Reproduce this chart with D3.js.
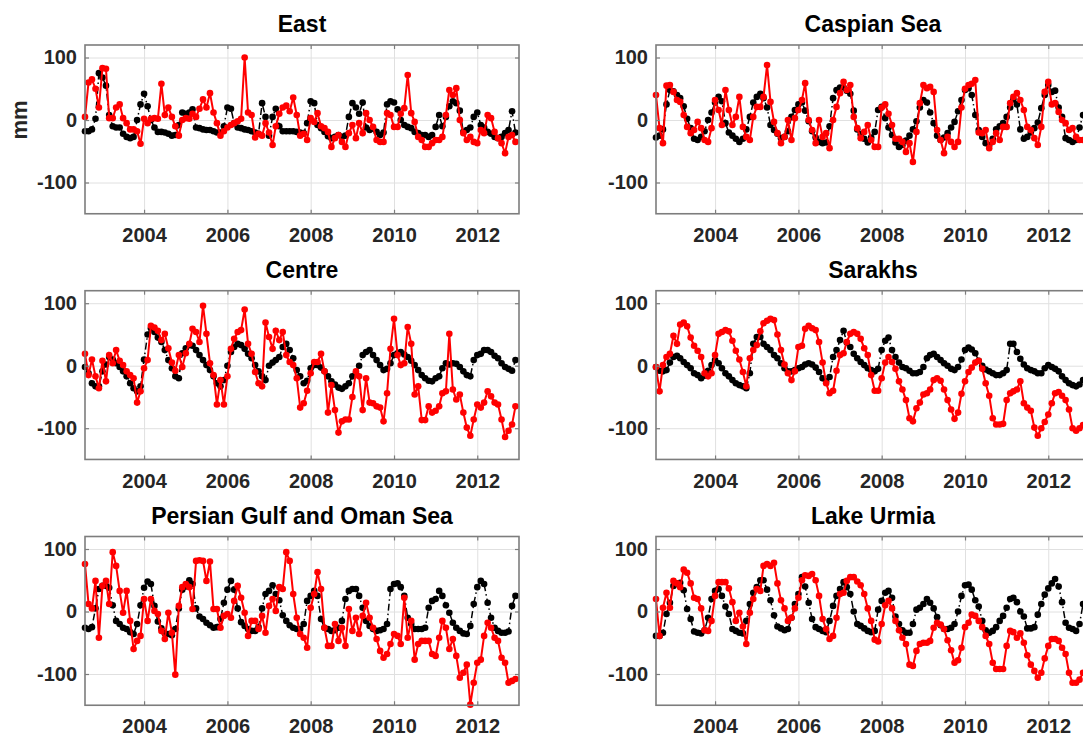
<!DOCTYPE html>
<html>
<head>
<meta charset="utf-8">
<script src="https://cdn.jsdelivr.net/npm/d3@7"></script>
<style>
  body { margin: 0; background: #fff; overflow: hidden; }
  svg { display: block; }
  text { font-family: "Liberation Sans", Arial, Helvetica, sans-serif; }
</style>
</head>
<body>
<svg id="fig" width="1083" height="736"></svg>
<script>
// Monthly water-storage anomalies (mm), Aug 2002 – Dec 2012
const months = d3.timeMonth.range(new Date(2002, 7, 1), new Date(2013, 0, 1));
const yearTicks = [2004, 2006, 2008, 2010, 2012];
const valueTicks = [-100, 0, 100];

const eastBlack = [-18,-18,-15,2,75,68,55,8,-10,-12,-12,-22,-27,-29,-27,0,25,42,22,0,-12,-19,-19,-20,-22,-25,-24,-8,12,10,12,17,-12,-13,-15,-16,-16,-18,-20,-20,-10,20,18,-5,-12,-13,-15,-16,-18,-20,-22,27,5,-25,5,18,-10,-18,-18,-18,-18,-19,
  -20,-21,-5,30,27,-8,-13,-19,-26,-29,-27,-24,-27,-25,5,27,20,10,28,-12,-16,-14,-19,-24,-20,25,30,28,17,0,-8,-11,-13,-19,-21,-24,-24,-27,-24,-11,8,-10,5,22,30,27,15,-19,-16,-12,5,12,-8,-12,-19,-22,-27,-29,-27,-21,-16,14,-20];
const eastRed = [5,60,65,50,20,83,82,3,3,20,25,3,-5,-15,-15,-18,-38,2,-5,2,3,2,58,8,20,5,-10,-25,0,3,2,10,5,18,33,20,43,12,-5,-25,-18,-12,-8,-5,-2,2,100,12,8,-28,-22,-25,-5,-20,-40,-10,10,20,23,14,36,8,
  -25,-22,-32,3,-3,11,-10,-13,-19,-43,-29,-24,-35,-43,-21,-8,-29,-5,-21,11,0,-11,-32,-35,-35,11,8,-11,-11,10,19,72,11,-3,-27,-32,-43,-43,-37,-32,-32,-27,8,48,40,51,0,-21,-32,-27,-35,-37,-16,-21,8,3,-19,-29,-37,-53,-27,-24,-35];

const caspianBlack = [-28,-25,-15,25,48,46,40,35,22,2,-13,-30,-32,-27,-18,0,12,28,37,30,-5,-20,-25,-30,-35,-30,-15,5,28,37,42,35,20,-8,-16,-22,-29,-27,-18,5,16,25,28,15,-2,-18,-28,-35,-37,-36,-10,35,48,
  52,52,47,42,15,-15,-23,-30,-36,-28,-19,16,21,3,-12,-24,-36,-43,-40,-33,-25,-15,-2,20,32,28,12,-5,-25,-32,-28,-21,-12,-3,14,32,48,51,40,8,-16,-27,-37,-40,-30,-15,-10,-5,5,20,33,25,-15,-30,-27,-20,-13,-4,19,40,56,45,47,20,5,-29,-32,-35,-32,-12,8,10];
const caspianRed = [40,-13,-37,55,56,45,32,29,8,-11,-21,-16,-3,-13,-32,-35,-13,32,16,-8,48,16,-8,5,37,-11,-27,-32,5,21,21,37,88,29,-3,-21,-37,-27,0,-32,3,16,32,59,0,-16,-37,0,-27,-21,-45,0,21,
  43,61,48,56,5,-13,-29,-19,-8,-32,-43,-43,20,25,10,-8,-30,-30,-35,-51,-37,-67,-19,27,56,51,53,45,-16,-32,-53,-27,-35,-43,-35,20,50,56,58,64,-20,-21,-16,-45,-35,-21,-32,-11,-11,27,37,43,32,16,-11,-16,-29,-40,-11,45,61,25,27,13,0,-5,-16,-13,-27,-32,-32,-30];

const centreBlack = [-2,-12,-28,-33,-33,-9,2,14,10,4,-2,-9,-17,-28,-36,-41,-33,10,50,60,54,45,38,25,9,-4,-17,-20,20,28,33,32,25,17,9,1,-7,-17,-28,-33,-23,0,22,30,35,33,27,19,12,1,-9,-17,-23,0,5,9,14,30,35,25,12,-7,
  -17,-28,-24,-4,1,1,-3,-9,-17,-25,-30,-35,-37,-33,-28,-17,-12,0,17,22,25,17,9,1,-7,-5,4,17,20,22,18,14,8,1,-7,-15,-20,-24,-25,-20,-17,-4,4,2,4,3,-2,-9,-15,-17,9,17,19,25,25,22,16,12,4,-2,-5,-8,9];
const centreRed = [19,-15,10,-17,-36,8,-25,17,4,25,8,1,-9,-15,-20,-59,-41,-4,9,64,61,56,41,51,28,5,-8,17,-2,20,35,59,54,38,96,51,4,-15,-62,-23,-62,-17,27,43,54,57,90,35,19,-10,-28,-33,69,46,27,56,41,54,17,6,1,-20,
  -67,-60,-40,-12,6,6,19,-9,-75,-31,-71,-107,-89,-86,-86,-50,-9,-17,-71,-20,-59,-60,-65,-67,-89,-44,27,75,17,1,4,62,35,-46,-33,-87,-87,-65,-75,-72,-65,-44,-41,51,-38,-54,-46,-75,-99,-112,-86,-62,-67,-59,-41,-49,-59,-62,-86,-114,-104,-94,-65];

const sarakhsBlack = [-2,-8,-9,-7,5,14,16,12,6,1,-4,-12,-15,-20,-16,-8,1,9,4,-4,-12,-17,-23,-28,-31,-33,-36,-12,35,46,46,35,30,25,17,12,4,-4,-9,-9,-7,-4,-2,2,4,2,-3,-10,-20,-25,-18,14,25,
  41,56,37,30,19,12,6,1,-4,-7,-9,-5,25,40,45,25,14,5,-2,-4,-8,-12,-12,-10,-2,12,17,19,14,9,4,0,-5,-7,-2,10,25,29,26,20,8,0,-6,-9,-12,-15,-15,-12,-7,35,35,22,11,2,-4,-7,-9,-12,-12,-4,1,-2,-5,-9,-17,-23,-28,-31,-33,-30,-23,-20];
const sarakhsRed = [-2,-41,1,14,19,48,35,66,69,63,45,32,24,14,-12,-17,-12,17,51,54,57,55,40,24,10,-10,-33,12,25,33,55,68,72,75,73,50,25,2,-12,-23,-9,30,32,59,64,60,57,38,5,-28,-44,-40,-8,
  17,20,38,51,54,51,43,28,17,-15,-40,-40,-20,5,14,6,-5,-25,-38,-55,-84,-89,-68,-59,-46,-44,-38,-23,-20,-24,-38,-55,-70,-85,-75,-45,-25,-10,-3,5,8,-5,-28,-48,-84,-94,-94,-93,-55,-44,-41,-38,-25,-60,-67,-72,-99,-112,-100,-90,-78,-60,-44,-42,-48,-55,-70,-100,-104,-100,-95,-90];

const gulfBlack = [-26,-28,-25,5,36,41,41,38,10,-15,-20,-26,-28,-33,-36,-20,10,38,48,44,9,-16,-27,-35,-36,-38,-28,5,35,40,50,44,5,-8,-12,-18,-22,-26,-25,-12,14,35,49,35,5,-17,-23,-28,-31,-31,-25,5,28,33,42,28,18,-6,-15,-22,-26,-28,
  -28,-20,17,25,33,25,-12,-26,-28,-31,-30,-26,-15,20,33,36,36,25,6,-15,-23,-28,-31,-30,-28,-20,36,44,45,39,25,-10,-20,-28,-28,-28,-26,6,17,20,33,25,10,-2,-18,-26,-31,-35,-36,-23,12,39,49,44,14,-10,-26,-31,-34,-34,-32,9,25];
const gulfRed = [76,12,5,49,-42,41,49,12,95,73,33,-2,33,-15,-60,-47,-39,20,-15,20,1,-4,-31,-44,-2,-34,-101,9,39,44,39,4,81,82,81,49,80,4,4,-26,-7,-4,-10,17,41,22,-2,-39,-15,-15,-28,-7,-34,9,20,1,39,36,95,81,28,-10,
  -36,-42,-58,6,28,63,36,-26,-55,-55,-20,-47,-26,-55,4,-31,-10,-36,-7,14,-10,-26,-44,-63,-74,-68,-52,-36,-39,-52,22,-42,-15,-77,-52,-47,-47,-47,-68,-71,-42,-15,-26,-60,-44,-71,-106,-98,-85,-149,-114,-82,-77,-39,-18,-26,-42,-47,-74,-82,-114,-111,-108];

const urmiaBlack = [-39,-39,-34,-4,14,41,45,46,34,4,-12,-32,-34,-35,-30,-10,20,33,36,25,8,-4,-28,-31,-34,-35,-15,12,30,39,50,50,35,18,-6,-24,-27,-30,-28,-10,12,28,55,40,14,-12,-25,-28,-31,-33,-15,9,25,
  36,47,39,28,0,-20,-23,-27,-31,-33,-31,3,17,30,33,22,-8,-20,-30,-34,-34,-20,3,6,12,20,14,5,-9,-22,-28,-28,-26,-20,0,25,42,43,35,18,8,-15,-30,-34,-31,-25,-15,-7,6,20,22,15,0,-8,-27,-27,-25,-5,12,27,37,45,52,40,15,-18,-26,-28,-31,-20,12,20];
const urmiaRed = [20,-39,6,30,6,49,45,39,67,62,45,22,20,5,-30,-31,-15,25,47,47,47,37,15,-15,-2,-24,-52,-2,20,36,33,73,76,73,78,45,18,5,-15,-10,5,22,50,58,57,60,50,25,-12,-28,-44,-39,-10,
  28,30,49,55,55,48,42,28,5,-15,-45,-48,-20,10,17,5,-15,-30,-42,-52,-85,-87,-63,-52,-50,-50,-47,-26,-18,-21,-28,-46,-62,-82,-78,-58,-25,-18,-5,-7,-15,-25,-39,-52,-82,-92,-92,-92,-55,-31,-33,-42,-35,-50,-70,-85,-95,-106,-98,-75,-55,-44,-44,-47,-58,-68,-98,-114,-114,-109,-98,-95];

const panelTitles = ["East", "Caspian Sea", "Centre", "Sarakhs", "Persian Gulf and Oman Sea", "Lake Urmia"];
const blackSeries = [eastBlack, caspianBlack, centreBlack, sarakhsBlack, gulfBlack, urmiaBlack];
const redSeries = [eastRed, caspianRed, centreRed, sarakhsRed, gulfRed, urmiaRed];

// layout
const colX = [85, 656];
const rowY = [45, 290.7, 536.5];
const W = 434, H = 168.75;

const svg = d3.select("#fig");

const x = d3.scaleTime()
  .domain([new Date(2002, 7, 1), new Date(2013, 0, 1)])
  .range([0, W]);
const y = d3.scaleLinear().domain([-150, 120]).range([H, 0]);
const tickDates = yearTicks.map(yr => new Date(yr, 0, 1));

const line = d3.line().x(d => x(d.date)).y(d => y(d.v));

panelTitles.forEach((title, k) => {
  const col = k % 2, row = Math.floor(k / 2);
  const g = svg.append("g").attr("transform", `translate(${colX[col]},${rowY[row]})`);

  g.append("rect").attr("width", W).attr("height", H).attr("fill", "#fff");

  // grid
  g.append("g")
    .attr("transform", `translate(0,${H})`)
    .call(d3.axisBottom(x).tickValues(tickDates).tickSize(-H).tickFormat(""))
    .call(a => a.select(".domain").remove())
    .call(a => a.selectAll("line").attr("stroke", "#e0e0e0").attr("stroke-width", 1));
  g.append("g")
    .call(d3.axisLeft(y).tickValues(valueTicks).tickSize(-W).tickFormat(""))
    .call(a => a.select(".domain").remove())
    .call(a => a.selectAll("line").attr("stroke", "#e0e0e0").attr("stroke-width", 1));

  const blk = blackSeries[k].map((v, i) => ({ date: months[i], v }));
  const red = redSeries[k].map((v, i) => ({ date: months[i], v }));

  g.append("path").datum(blk)
    .attr("fill", "none").attr("stroke", "#000").attr("stroke-width", 1.5)
    .attr("stroke-dasharray", "7,3,1.5,3")
    .attr("d", line);
  g.append("g").selectAll("circle").data(blk).join("circle")
    .attr("cx", d => x(d.date)).attr("cy", d => y(d.v)).attr("r", 3.3).attr("fill", "#000");

  g.append("path").datum(red)
    .attr("fill", "none").attr("stroke", "#ff0000").attr("stroke-width", 2)
    .attr("d", line);
  g.append("g").selectAll("circle").data(red).join("circle")
    .attr("cx", d => x(d.date)).attr("cy", d => y(d.v)).attr("r", 3.3).attr("fill", "#ff0000");

  // axes with inward ticks on all four sides
  const tickLen = 4;
  const axB = g.append("g").attr("transform", `translate(0,${H})`)
    .call(d3.axisBottom(x).tickValues(tickDates).tickSizeInner(-tickLen).tickSizeOuter(0).tickPadding(14)
      .tickFormat(d3.timeFormat("%Y")));
  const axT = g.append("g")
    .call(d3.axisTop(x).tickValues(tickDates).tickSizeInner(-tickLen).tickSizeOuter(0).tickFormat(""));
  const axL = g.append("g")
    .call(d3.axisLeft(y).tickValues(valueTicks).tickSizeInner(-tickLen).tickSizeOuter(0).tickPadding(8)
      .tickFormat(v => String(v)));
  const axR = g.append("g").attr("transform", `translate(${W},0)`)
    .call(d3.axisRight(y).tickValues(valueTicks).tickSizeInner(-tickLen).tickSizeOuter(0).tickFormat(""));
  [axB, axT, axL, axR].forEach(a => {
    a.select(".domain").remove();
    a.selectAll("line").attr("stroke", "#7d7d7d").attr("stroke-width", 1.2);
    a.selectAll("text")
      .attr("fill", "#262626")
      .attr("font-size", 20)
      .attr("font-weight", "bold")
      .attr("font-family", '"Liberation Sans", Arial, sans-serif');
  });

  // axes box
  g.append("rect").attr("width", W).attr("height", H)
    .attr("fill", "none").attr("stroke", "#7d7d7d").attr("stroke-width", 1.6);

  // title
  g.append("text")
    .attr("x", W / 2).attr("y", -13)
    .attr("text-anchor", "middle")
    .attr("font-size", 23).attr("font-weight", "bold").attr("fill", "#000")
    .text(title);
});

// y-axis label for the first panel
svg.append("text")
  .attr("transform", `translate(27,${rowY[0] + y(0)}) rotate(-90)`)
  .attr("text-anchor", "middle")
  .attr("font-size", 22).attr("font-weight", "bold").attr("fill", "#262626")
  .text("mm");
</script>
</body>
</html>
